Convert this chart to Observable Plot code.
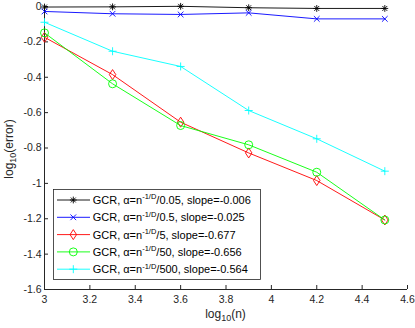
<!DOCTYPE html>
<html>
<head>
<meta charset="utf-8">
<script src="https://cdn.jsdelivr.net/npm/d3@7"></script>
<script src="https://cdn.jsdelivr.net/npm/@observablehq/plot@0.6"></script>
<style>
  html, body { margin: 0; padding: 0; background: #fff; }
  #chart { position: relative; width: 415px; height: 328px; }
</style>
</head>
<body>
<div id="chart"></div>
<script>
// ---- data ----
const logN = [3, 3.3, 3.6, 3.9, 4.2, 4.5];
const errA005 = [-0.003, -0.002, 0.001, -0.007, -0.011, -0.011];
const errA05 = [-0.028, -0.041, -0.045, -0.036, -0.070, -0.070];
const errA5 = [-0.174, -0.385, -0.654, -0.828, -0.984, -1.207];
const errA50 = [-0.149, -0.437, -0.673, -0.782, -0.937, -1.207];
const errA500 = [-0.089, -0.253, -0.339, -0.588, -0.748, -0.931];
const divisors = ["0.05", "0.5", "5", "50", "500"];
const slopes = ["-0.006", "-0.025", "-0.677", "-0.656", "-0.564"];
const xTicks = [3, 3.2, 3.4, 3.6, 3.8, 4, 4.2, 4.4, 4.6];
const yTicks = [0, -0.2, -0.4, -0.6, -0.8, -1, -1.2, -1.4, -1.6];

// ---- marker shapes ----
const rad = (size) => Math.sqrt(size / Math.PI);
const asterisk8 = { draw(c, s) { const r = rad(s), d = r * 0.72;
  c.moveTo(-r, 0); c.lineTo(r, 0); c.moveTo(0, -r); c.lineTo(0, r);
  c.moveTo(-d, -d); c.lineTo(d, d); c.moveTo(-d, d); c.lineTo(d, -d); } };
const timesX = { draw(c, s) { const r = rad(s) * 0.75;
  c.moveTo(-r, -r); c.lineTo(r, r); c.moveTo(-r, r); c.lineTo(r, -r); } };
const tallDiamond = { draw(c, s) { const r = rad(s);
  c.moveTo(0, -r); c.lineTo(r * 0.65, 0); c.lineTo(0, r); c.lineTo(-r * 0.65, 0); c.closePath(); } };
const circleM = { draw(c, s) { const r = rad(s); c.moveTo(r, 0); c.arc(0, 0, r, 0, 2 * Math.PI); } };
const plusM = { draw(c, s) { const r = rad(s);
  c.moveTo(-r, 0); c.lineTo(r, 0); c.moveTo(0, -r); c.lineTo(0, r); } };

const series = [
  { vals: errA005, color: "#000000", sym: asterisk8, r: 3.4 },
  { vals: errA05, color: "#0000ff", sym: timesX, r: 3.8 },
  { vals: errA5, color: "#ff0000", sym: tallDiamond, r: 5 },
  { vals: errA50, color: "#00ff00", sym: circleM, r: 4 },
  { vals: errA500, color: "#00ffff", sym: plusM, r: 4 }
];

const axisColor = "#262626";
const marks = [
  Plot.ruleX([3], { stroke: axisColor }),
  Plot.ruleY([-1.6], { stroke: axisColor }),
  Plot.tickX(xTicks, { x: d => d, stroke: axisColor, insetTop: 279 }),
  Plot.tickY(yTicks, { y: d => d, stroke: axisColor, insetRight: 359 }),
  Plot.axisX({ ticks: xTicks, tickSize: 0, tickPadding: 6, tickFormat: d => String(d), label: null }),
  Plot.axisY({ ticks: yTicks, tickSize: 0, tickPadding: 3, tickFormat: d => String(d), label: null })
];
for (const s of series) {
  const rows = logN.map((x, i) => ({ x, y: s.vals[i] }));
  marks.push(Plot.line(rows, { x: "x", y: "y", stroke: s.color, strokeWidth: 0.9 }));
  marks.push(Plot.dot(rows, { x: "x", y: "y", symbol: s.sym, r: s.r, stroke: s.color, fill: "none", strokeWidth: 0.9 }));
}

const chart = Plot.plot({
  width: 415, height: 328,
  marginLeft: 44, marginRight: 8, marginTop: 6, marginBottom: 39,
  x: { domain: [3, 4.6] },
  y: { domain: [-1.6, 0] },
  style: { fontFamily: "'Liberation Sans', Arial, Helvetica, sans-serif", fontSize: "10.5px", color: axisColor, background: "#fff" },
  marks
});
document.getElementById("chart").appendChild(chart);

// ---- axis labels and legend (added to the same SVG) ----
const svg = d3.select(chart);
const font = "'Liberation Sans', Arial, Helvetica, sans-serif";

const xl = svg.append("text").attr("x", 225.5).attr("y", 318).attr("text-anchor", "middle")
  .attr("font-family", font).attr("font-size", 12).attr("fill", axisColor);
xl.append("tspan").text("log");
xl.append("tspan").attr("dy", 3).attr("font-size", 9).text("10");
xl.append("tspan").attr("dy", -3).text("(n)");

const yl = svg.append("text").attr("transform", "translate(12.5,149) rotate(-90)").attr("text-anchor", "middle")
  .attr("font-family", font).attr("font-size", 12).attr("fill", axisColor);
yl.append("tspan").text("log");
yl.append("tspan").attr("dy", 3).attr("font-size", 9).text("10");
yl.append("tspan").attr("dy", -3).text("(error)");

const lg = svg.append("g").attr("text-anchor", "start");
lg.append("rect").attr("x", 53.5).attr("y", 189.5).attr("width", 207).attr("height", 90)
  .attr("fill", "#fff").attr("stroke", "#262626").attr("stroke-width", 0.8);
series.forEach((s, i) => {
  const y = 200 + i * 17.3;
  lg.append("line").attr("x1", 57).attr("x2", 90).attr("y1", y).attr("y2", y)
    .attr("stroke", s.color).attr("stroke-width", 0.9);
  const p = d3.path(); s.sym.draw(p, Math.PI * s.r * s.r);
  lg.append("path").attr("d", p.toString()).attr("transform", `translate(73.3,${y})`)
    .attr("fill", "none").attr("stroke", s.color).attr("stroke-width", 0.9);
  const t = lg.append("text").attr("x", 92.7).attr("y", y + 3.9).attr("text-anchor", "start")
    .attr("font-family", font).attr("font-size", 11).attr("fill", "#000");
  t.append("tspan").text("GCR, α=n");
  t.append("tspan").attr("dy", -4.5).attr("font-size", 7.5).text("-1/D");
  t.append("tspan").attr("dy", 4.5).text(`/${divisors[i]}, slope=${slopes[i]}`);
});
</script>
</body>
</html>
